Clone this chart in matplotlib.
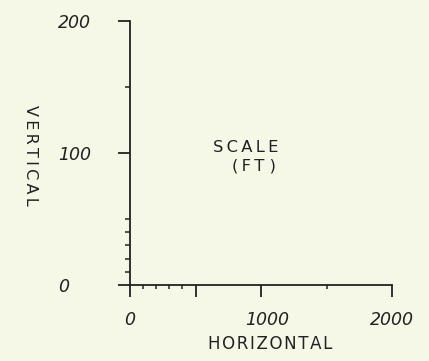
import matplotlib
matplotlib.use('Agg')
import matplotlib.pyplot as plt
import matplotlib.transforms as mtransforms

# scale bar data
x_major = [0, 500, 1000, 2000]
x_major_labels = ['0', '', '1000', '2000']
x_minor = [100, 200, 300, 400, 1500]
y_major = [0, 100, 200]
y_major_labels = ['0', '100', '200']
y_minor = [10, 20, 30, 40, 50, 150]

bg = '#f5f7e7'
ink = '#222222'
ts = '\u2009'
hs = '\u200a'

fig = plt.figure(figsize=(4.29, 3.61), dpi=100, facecolor=bg)
ax = fig.add_axes([130/429, 1 - 285/361, 262/429, 264/361])
ax.set_facecolor(bg)
ax.set_xlim(0, 2000)
ax.set_ylim(0, 200)

for s in ['top', 'right']:
    ax.spines[s].set_visible(False)
for s in ['left', 'bottom']:
    ax.spines[s].set_color(ink)
    ax.spines[s].set_linewidth(1.3)

ax.set_xticks(x_major)
ax.set_xticklabels(x_major_labels, fontsize=12.5, style='italic', color=ink)
ax.set_xticks(x_minor, minor=True)
ax.set_yticks(y_major)
ax.set_yticklabels(y_major_labels, fontsize=12.5, style='italic', color=ink,
                   ha='left')
ax.set_yticks(y_minor, minor=True)

ax.tick_params(axis='x', which='major', direction='out', length=8.5, width=1.3,
               color=ink, pad=10)
ax.tick_params(axis='x', which='minor', direction='out', length=3, width=1.1,
               color=ink)
ax.tick_params(axis='y', which='major', direction='out', length=9, width=1.3,
               color=ink, pad=43)
ax.tick_params(axis='y', which='minor', direction='out', length=3.5, width=1.1,
               color=ink)

# the 1000 label sits a little right of its tick in the original
lab = ax.get_xticklabels()[2]
lab.set_transform(lab.get_transform() +
                  mtransforms.ScaledTranslation(6/100, 0, fig.dpi_scale_trans))

ax.text(1069, -45, hs.join('HORIZONTAL'), ha='center', va='center',
        fontsize=12, color=ink)
ax.text(-760, 98, ts.join('VERTICAL'), ha='center', va='center',
        rotation=-90, fontsize=11.5, color=ink)
ax.text(885, 104, ts.join('SCALE'), ha='center', va='center',
        fontsize=11.8, color=ink)
ax.text(950, 90, '(' + ts + 'F' + ts + 'T' + ' )', ha='center', va='center',
        fontsize=11.8, color=ink)

fig.savefig('out.png', dpi=100, facecolor=bg)
